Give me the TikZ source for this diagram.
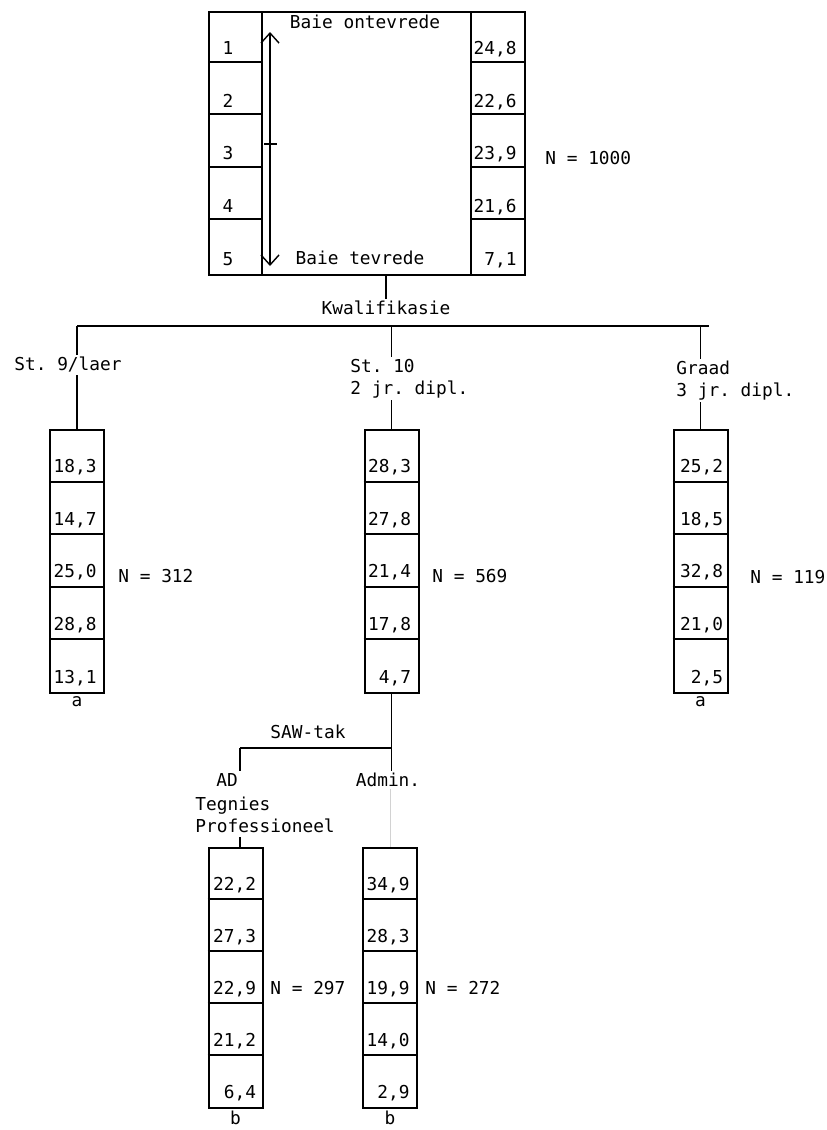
\documentclass[tikz,border=0pt]{standalone}
\usepackage{fontspec}
\setmonofont{DejaVu Sans Mono}
\usetikzlibrary{calc,positioning,arrows.meta}

\begin{document}
\begin{tikzpicture}[
    x=0.5pt, y=-0.5pt,
    every node/.style={font=\ttfamily\fontsize{8.9}{10.7}\selectfont, inner sep=1pt},
    kolom/.style={rectangle, draw, line width=1pt, minimum width=27pt,
        minimum height=131.5pt, inner sep=0pt},
    ry/.style={line width=1pt},
    waarde/.style={anchor=base east},
    etiket/.style={align=left, anchor=north west},
    voet/.style={anchor=north, inner sep=0pt, yshift=-1pt},
    lyn/.style={draw, line width=0.7pt},
    pyl/.style={{Straight Barb[length=5pt,width=9pt]}-{Straight Barb[length=5pt,width=9pt]}}
]
\useasboundingbox (0,0) rectangle (826,1130);

% top table
\node (vraag) [kolom, minimum width=158pt] at (367,143.5) {};
\draw[ry] ($(vraag.north west)+(54,0)$) -- ($(vraag.south west)+(54,0)$);
\draw[ry] ($(vraag.north east)+(-55,0)$) -- ($(vraag.south east)+(-55,0)$);
\foreach \i in {1,...,4} {
  \draw[ry] ($(vraag.north west)+(0,\i*52.6-2)$) -- ++(54,0);
  \draw[ry] ($(vraag.north east)+(-55,\i*52.6-2)$) -- ++(55,0);
}
\foreach \v [count=\i] in {1,2,3,4,5}
  \node [anchor=base] at ($(vraag.north west)+(20,\i*52.6-9)$) {\v};
\foreach \v [count=\i] in {{24,8},{22,6},{23,9},{21,6},{7,1}}
  \node [waarde] at ($(vraag.north east)+(-7,\i*52.6-9)$) {\v};
\node (ontevrede) at (365,22) {Baie ontevrede};
\node (tevrede) at (360,258) {Baie tevrede};
\coordinate (bo) at (270,32);
\coordinate (onder) at (270,266);
\draw[line width=0.7pt, pyl] (bo) -- (onder);
\draw[line width=1pt] ($(bo)!0.48!(onder)+(-6,0)$) -- ++(13,0);
\node (n1000) [anchor=west] at (543,158) {N = 1000};

% qualification
\node (kwal) at (386,308) {Kwalifikasie};
\draw[lyn] (vraag.south -| kwal) -- (kwal.north);
\coordinate (bar9) at (77,326);
\coordinate (bargr) at (709,326);
\draw[lyn] (bar9) -- (bargr);

\node (st9) [anchor=west] at (12,365) {St. 9/laer};
\node (st10) [etiket] at (348,357) {St. 10\\2 jr. dipl.};
\node (graad) [etiket] at (674,359) {Graad\\3 jr. dipl.};

\node (b9) [kolom] at (77,561.5) {};
\node (b10) [kolom] at (391.5,561.5) {};
\node (bgr) [kolom] at (700.5,561.5) {};

\draw[lyn] (bar9) -- (bar9 |- st9.north);
\draw[lyn] (b9 |- st9.south) -- (b9.north);
\draw[lyn] (b10 |- bar9) -- (b10 |- st10.north);
\draw[lyn] (b10 |- st10.south) -- (b10.north);
\draw[lyn] (bgr |- bar9) -- (bgr |- graad.north);
\draw[lyn] (bgr |- graad.south) -- (bgr.north);

\foreach \i in {1,...,4} {
  \draw[ry] ($(b9.north west)+(0,\i*52.6)$) -- ++(54,0);
  \draw[ry] ($(b10.north west)+(0,\i*52.6)$) -- ++(54,0);
  \draw[ry] ($(bgr.north west)+(0,\i*52.6)$) -- ++(54,0);
}
\foreach \v [count=\i] in {{18,3},{14,7},{25,0},{28,8},{13,1}}
  \node [waarde] at ($(b9.north east)+(-6,\i*52.6-9)$) {\v};
\foreach \v [count=\i] in {{28,3},{27,8},{21,4},{17,8},{4,7}}
  \node [waarde] at ($(b10.north east)+(-6,\i*52.6-9)$) {\v};
\foreach \v [count=\i] in {{25,2},{18,5},{32,8},{21,0},{2,5}}
  \node [waarde] at ($(bgr.north east)+(-3,\i*52.6-9)$) {\v};

\node (n312) [anchor=west] at (116,576) {N = 312};
\node (n569) [anchor=west] at (430,576) {N = 569};
\node (n119) [anchor=west] at (748,577) {N = 119};
\node (a9) [voet] at (b9.south) {a};
\node (agr) [voet] at (bgr.south) {a};

% SAW branch
\coordinate (tak) at ($(b10.south)+(0,54)$);
\node (sawtak) at (308,732) {SAW-tak};
\node (ad) at (227,780) {AD};
\node (tegn) [etiket] at (193,795) {Tegnies\\Professioneel};
\node (admin) at (388,780) {Admin.};

\node (bad) [kolom, minimum height=130pt] at (235.5,978) {};
\node (badm) [kolom, minimum height=130pt] at (390,978) {};

\draw[lyn] (b10.south) -- (b10.south |- admin.north);
\draw[lyn] (tak -| ad.north east) -- (tak);
\draw[lyn] (tak -| ad.north east) -- (ad.north east);
\draw[lyn] (bad.north -| ad.north east) -- ++(0,-10);
\draw[gray!35, line width=0.5pt] (badm |- admin.south) -- (badm.north);

\foreach \i in {1,...,4} {
  \draw[ry] ($(bad.north west)+(0,\i*52)$) -- ++(54,0);
  \draw[ry] ($(badm.north west)+(0,\i*52)$) -- ++(54,0);
}
\foreach \v [count=\i] in {{22,2},{27,3},{22,9},{21,2},{6,4}}
  \node [waarde] at ($(bad.north east)+(-5,\i*52-9)$) {\v};
\foreach \v [count=\i] in {{34,9},{28,3},{19,9},{14,0},{2,9}}
  \node [waarde] at ($(badm.north east)+(-6,\i*52-9)$) {\v};

\node (n297) [anchor=west] at (268,988) {N = 297};
\node (n272) [anchor=west] at (423,988) {N = 272};
\node (bad-b) [voet] at (bad.south) {b};
\node (badm-b) [voet] at (badm.south) {b};
\end{tikzpicture}
\end{document}
